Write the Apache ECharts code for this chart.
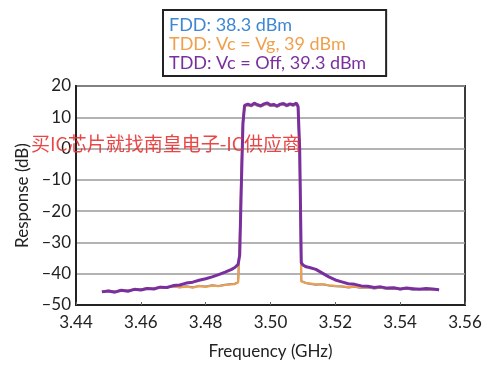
<!DOCTYPE html>
<html><head><meta charset="utf-8">
<script src="https://cdn.jsdelivr.net/npm/echarts@6/dist/echarts.min.js"></script>
<style>html,body{margin:0;padding:0;background:#fff}#c{width:500px;height:372px}</style>
</head><body><div id="c"></div>
<script>
const seriesNames = ["FDD: 38.3 dBm", "TDD: Vc = Vg, 39 dBm", "TDD: Vc = Off, 39.3 dBm"];
const xTicks = [3.44, 3.46, 3.48, 3.50, 3.52, 3.54, 3.56];
const yTicks = [-50, -40, -30, -20, -10, 0, 10, 20];
const freq = [
  3.448,3.450,3.452,3.454,3.456,3.458,3.460,3.462,3.464,3.466,3.468,3.470,3.472,3.474,3.476,3.478,3.480,3.482,3.484,3.486,3.488,
  3.489,3.490,3.4905,3.491,3.4915,3.492,
  3.493,3.494,3.495,3.496,3.497,3.498,3.499,3.500,3.501,3.502,3.503,3.504,3.505,3.506,3.507,3.508,
  3.5085,3.509,3.5095,3.510,3.511,
  3.512,3.514,3.516,3.518,3.520,3.522,3.524,3.526,3.528,3.530,3.532,3.534,3.536,3.538,3.540,3.542,3.544,3.546,3.548,3.550,3.552
];
const fdd = [
  -45.6,-45.5,-45.7,-45.3,-45.4,-45.0,-45.0,-44.7,-44.7,-44.3,-44.4,-44.1,-44.3,-44.0,-44.3,-43.9,-44.1,-43.7,-43.9,-43.5,-43.3,
  -43.2,-42.7,-31,-9,8,13.5,
  13.8,13.5,14.1,13.7,13.4,13.9,14.2,13.6,13.8,13.3,13.9,14.1,13.5,14.0,13.7,14.1,
  13.3,-1,-42.3,-42.7,-43.0,
  -43.2,-43.5,-43.4,-43.8,-44.0,-44.1,-44.4,-44.2,-44.6,-44.4,-44.7,-44.5,-44.9,-44.7,-45.0,-44.8,-45.1,-44.9,-45.2,-45.0,-45.3
];
const tddVg = [
  -45.7,-45.4,-45.8,-45.2,-45.5,-44.9,-45.1,-44.6,-44.8,-44.2,-44.5,-44.0,-44.4,-44.1,-44.5,-43.9,-44.2,-43.8,-44.0,-43.6,-43.4,
  -43.3,-42.8,-30,-8,9,13.6,
  13.9,13.6,14.2,13.8,13.5,14.0,14.3,13.7,13.9,13.4,14.0,14.2,13.6,14.1,13.8,14.2,
  13.4,-2,-42.5,-42.8,-43.0,
  -43.1,-43.4,-43.3,-43.7,-43.9,-44.0,-44.3,-44.1,-44.5,-44.3,-44.6,-44.4,-44.8,-44.6,-44.9,-44.7,-45.0,-44.8,-45.1,-44.9,-45.2
];
const tddOff = [
  -45.8,-45.5,-45.9,-45.3,-45.6,-45.0,-45.2,-44.7,-44.9,-44.3,-44.4,-43.8,-43.6,-43.0,-42.7,-42.1,-41.6,-41.0,-40.3,-39.5,-38.6,
  -38.0,-37.0,-34,-12,8,13.8,
  14.2,13.8,14.5,14.0,13.7,14.3,14.6,13.9,14.1,13.6,14.2,14.4,13.8,14.3,14.0,14.5,
  13.5,0,-36.5,-37.2,-37.8,
  -38.0,-38.6,-39.8,-41.0,-42.0,-42.6,-43.2,-43.4,-43.9,-44.0,-44.4,-44.2,-44.6,-44.5,-44.9,-44.6,-44.8,-45.0,-44.7,-44.9,-45.1
];
const colors = ["#3f86d4", "#f0a04c", "#7a2f9e"];
const watermark = "买IC芯片就找南皇电子-IC供应商";

const pairs = v => freq.map((f, i) => [f, v[i]]);
const font = "Lato, 'DejaVu Sans', sans-serif";
const chart = echarts.init(document.getElementById('c'), null, {renderer: 'canvas'});
chart.setOption({
  animation: false,
  backgroundColor: '#fff',
  grid: {left: 76, right: 35, top: 86, bottom: 67, show: true, borderColor: '#3a3a3a', borderWidth: 2, backgroundColor: 'transparent'},
  legend: {
    orient: 'vertical', left: 163, top: 10, icon: 'none', itemWidth: 0, itemHeight: 12, itemGap: 1,
    borderColor: '#222', borderWidth: 2, padding: [6, 20, 4, 1], selectedMode: false,
    textStyle: {fontFamily: font, fontSize: 18},
    data: seriesNames.map((n, i) => ({name: n, textStyle: {color: colors[i]}}))
  },
  xAxis: {
    type: 'value', min: xTicks[0], max: xTicks[xTicks.length - 1], interval: 0.02,
    name: 'Frequency (GHz)', nameLocation: 'middle', nameGap: 38,
    nameTextStyle: {fontFamily: font, fontSize: 17, color: '#222'},
    axisLine: {show: true, onZero: false, lineStyle: {color: '#222', width: 2}},
    axisTick: {show: true, inside: true, length: 3, lineStyle: {color: '#666'}},
    axisLabel: {fontFamily: font, fontSize: 17, color: '#222', margin: 9, formatter: v => v.toFixed(2)},
    splitLine: {show: false}
  },
  yAxis: {
    type: 'value', min: yTicks[0], max: yTicks[yTicks.length - 1], interval: 10,
    name: 'Response (dB)', nameLocation: 'middle', nameGap: 44,
    nameTextStyle: {fontFamily: font, fontSize: 17, color: '#222'},
    axisLine: {show: true, onZero: false, lineStyle: {color: '#222', width: 2}},
    axisTick: {show: false},
    axisLabel: {fontFamily: font, fontSize: 17, color: '#222', margin: 5, formatter: v => v < 0 ? '\u2013' + Math.abs(v) : String(v)},
    splitLine: {show: true, lineStyle: {color: '#9a9a9a', width: 1.5}}
  },
  series: [
    {name: seriesNames[0], type: 'line', data: pairs(fdd), showSymbol: false, lineStyle: {color: colors[0], width: 2}, itemStyle: {color: colors[0]}, z: 2},
    {name: seriesNames[1], type: 'line', data: pairs(tddVg), showSymbol: false, lineStyle: {color: colors[1], width: 2.2}, itemStyle: {color: colors[1]}, z: 3},
    {name: seriesNames[2], type: 'line', data: pairs(tddOff), showSymbol: false, lineStyle: {color: colors[2], width: 3}, itemStyle: {color: colors[2]}, z: 4}
  ],
  graphic: [{
    type: 'text', left: 31, top: 134, z: 100,
    style: {text: watermark, fill: 'rgba(232,50,50,0.9)', font: "19px 'Noto Sans CJK SC', sans-serif"}
  }]
});
</script></body></html>
